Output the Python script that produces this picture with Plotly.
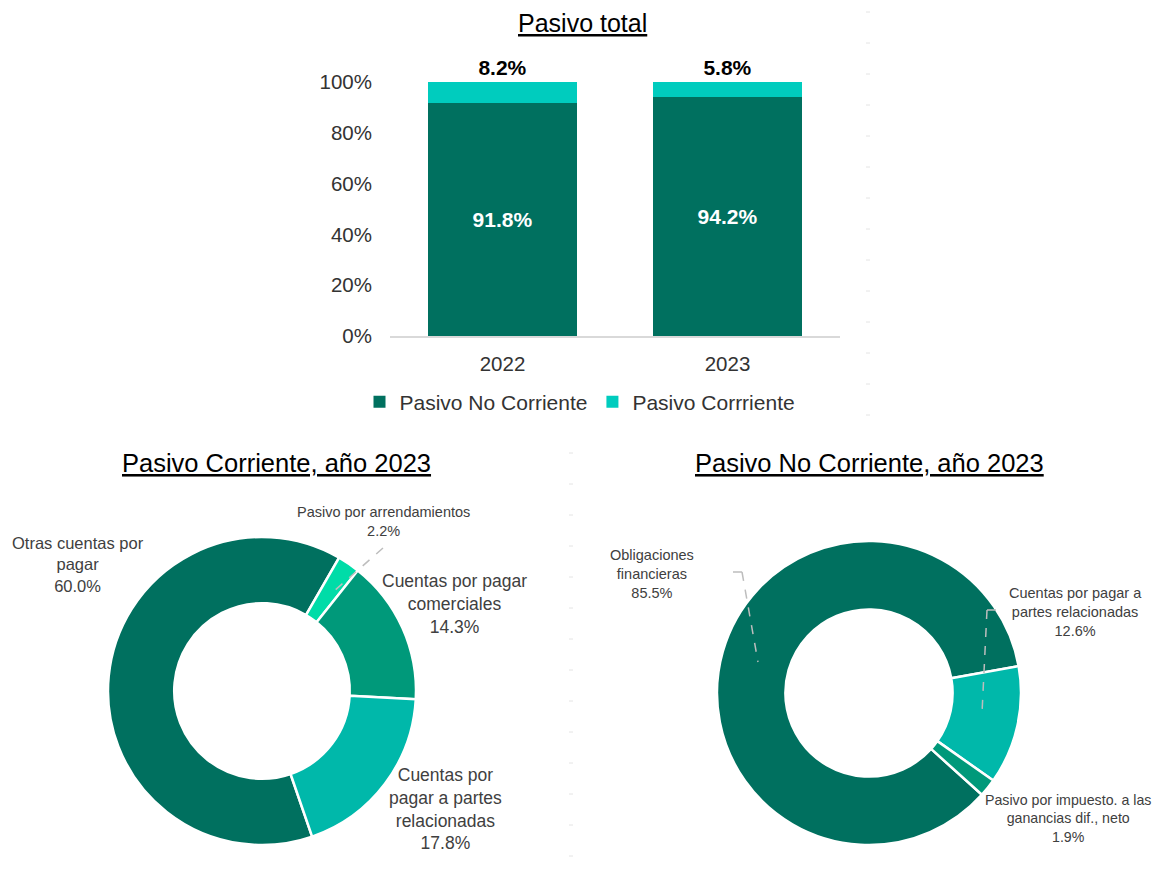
import plotly.graph_objects as go

# ---------------- data ----------------
years = ["2022", "2023"]
pasivo_no_corriente = [91.8, 94.2]
pasivo_corriente = [8.2, 5.8]
bar_series_names = ["Pasivo No Corriente", "Pasivo Corrriente"]
y_ticks = [0, 20, 40, 60, 80, 100]

pc_labels = ["Otras cuentas por<br>pagar", "Pasivo por arrendamientos",
             "Cuentas por pagar<br>comerciales", "Cuentas por<br>pagar a partes<br>relacionadas"]
pc_values = [60.0, 2.2, 14.3, 17.8]

pnc_labels = ["Obligaciones<br>financieras", "Cuentas por pagar a<br>partes relacionadas",
              "Pasivo por impuesto. a las<br>ganancias dif., neto"]
pnc_values = [85.5, 12.6, 1.9]

titles = ["Pasivo total", "Pasivo Corriente, año 2023", "Pasivo No Corriente, año 2023"]

# ---------------- styles ----------------
OFF = 8  # page body margin
W, H = 1161 - OFF, 878 - OFF
FONT = "Liberation Sans, Arial, sans-serif"
DARK = "#00705F"
LIGHT = "#00CCBE"
pc_colors = [DARK, "#00DCA8", "#00997A", "#00B8AA"]
pnc_colors = [DARK, "#00B8AA", "#00997A"]
TXT = "#404040"
AX = "#333333"


def px(x):
    return (x - OFF) / W


def py(y):
    return 1 - (y - OFF) / H


fig = go.Figure()

fig.add_trace(go.Bar(
    x=years, y=pasivo_no_corriente, name=bar_series_names[0],
    marker=dict(color=DARK, line=dict(width=0)),
    text=[f"{v:.1f}%" for v in pasivo_no_corriente],
    textposition="inside", insidetextanchor="middle",
    textfont=dict(family=FONT, size=21, color="white", weight="bold"),
    cliponaxis=False,
))
fig.add_trace(go.Bar(
    x=years, y=pasivo_corriente, name=bar_series_names[1],
    marker=dict(color=LIGHT, line=dict(width=0)),
    text=[f"{v:.1f}%" for v in pasivo_corriente],
    textposition="outside",
    textfont=dict(family=FONT, size=21, color="black", weight="bold"),
    cliponaxis=False,
))

# donuts
fig.add_trace(go.Pie(
    labels=[l.replace("<br>", " ") for l in pc_labels], values=pc_values,
    hole=0.57, sort=False, direction="clockwise", rotation=161,
    marker=dict(colors=pc_colors, line=dict(color="white", width=2.5)),
    textinfo="none", showlegend=False, automargin=False,
    domain=dict(x=[px(108), px(416)], y=[py(845), py(537)]),
))
fig.add_trace(go.Pie(
    labels=[l.replace("<br>", " ") for l in pnc_labels], values=pnc_values,
    hole=0.55, sort=False, direction="clockwise", rotation=132,
    marker=dict(colors=pnc_colors, line=dict(color="white", width=2.5)),
    textinfo="none", showlegend=False, automargin=False,
    domain=dict(x=[px(717), px(1021)], y=[py(845), py(541)]),
))

annotations = []
# titles
for t, (cx, cy, sz) in zip(titles, [(582, 23, 25), (276, 463, 25.5), (869, 463, 25.5)]):
    annotations.append(dict(text=f"<u>{t}</u>", x=px(cx), y=py(cy), xref="paper", yref="paper",
                            showarrow=False, xanchor="center", yanchor="middle",
                            font=dict(family=FONT, size=sz, color="black")))

# donut labels
pc_pos = [(78, 564, 16.5), (383, 521, 14.5), (455, 604, 17.5), (445, 809, 17.5)]
for lab, v, (cx, cy, sz) in zip(pc_labels, pc_values, pc_pos):
    annotations.append(dict(text=f"{lab}<br>{v:.1f}%", x=px(cx), y=py(cy), xref="paper", yref="paper",
                            showarrow=False, xanchor="center", yanchor="middle", align="center",
                            font=dict(family=FONT, size=sz, color=TXT)))
pnc_pos = [(652, 574, 14.5), (1075, 612, 14.5), (1068, 818, 14.2)]
for lab, v, (cx, cy, sz) in zip(pnc_labels, pnc_values, pnc_pos):
    annotations.append(dict(text=f"{lab}<br>{v:.1f}%", x=px(cx), y=py(cy), xref="paper", yref="paper",
                            showarrow=False, xanchor="center", yanchor="middle", align="center",
                            font=dict(family=FONT, size=sz, color=TXT)))

shapes = []
lead = dict(color="#BDBDBD", width=1.5, dash="dash")
for (x0, y0, x1, y1) in [(383, 548, 333, 592),
                         (733, 572, 742, 572), (742, 572, 758, 662),
                         (996, 610, 987, 610), (987, 610, 982, 713)]:
    shapes.append(dict(type="line", xref="paper", yref="paper",
                       x0=px(x0), y0=py(y0), x1=px(x1), y1=py(y1), line=lead))

# faint tick-like marks of the source slide
for xc, ys, ye in [(868, 12, 420), (571, 453, 870)]:
    yy = ys
    while yy <= ye:
        shapes.append(dict(type="line", xref="paper", yref="paper",
                           x0=px(xc - 2), x1=px(xc + 2), y0=py(yy), y1=py(yy),
                           line=dict(color="#E4E4E4", width=1)))
        yy += 31

fig.update_layout(
    width=W, height=H, margin=dict(l=0, r=0, t=0, b=0, autoexpand=False),
    paper_bgcolor="white", plot_bgcolor="white",
    barmode="stack", bargap=0.34,
    font=dict(family=FONT, color=AX),
    xaxis=dict(domain=[px(390), px(840)], showgrid=False, showline=True, automargin=False,
               linecolor="#D9D9D9", linewidth=1.5, ticks="", ticklabelstandoff=9,
               tickfont=dict(family=FONT, size=20.5, color=AX), fixedrange=True),
    yaxis=dict(domain=[py(336), py(82)], range=[0, 100], tickvals=y_ticks, automargin=False,
               ticktext=[f"{v}%" for v in y_ticks], showgrid=False, zeroline=False,
               showline=False, ticks="", ticklabelstandoff=17,
               tickfont=dict(family=FONT, size=20.5, color=AX), fixedrange=True),
    legend=dict(orientation="h", x=px(580), xanchor="center", y=py(402), yanchor="middle",
                font=dict(family=FONT, size=21, color=AX), itemwidth=30,
                traceorder="normal"),
    annotations=annotations, shapes=shapes,
)

fig.write_html("out.html")
